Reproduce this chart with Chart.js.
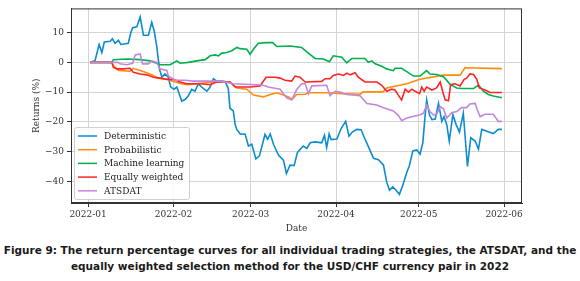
<!DOCTYPE html>
<html>
<head>
<meta charset="utf-8">
<script src="https://cdn.jsdelivr.net/npm/chart.js@4.4.1/dist/chart.umd.min.js"></script>
<style>
	html, body { margin: 0; padding: 0; background: #fff; }
	#wrap { position: relative; width: 580px; height: 281px; }
	#chart { position: absolute; left: 0; top: 0; }
	#caption {
		position: absolute; left: 0; top: 242px; width: 580px;
		text-align: center; font-family: "DejaVu Sans", sans-serif; font-weight: bold;
		font-size: 10.5px; line-height: 16px; color: #1a1a1a; white-space: nowrap;
	}
</style>
</head>
<body>
<div id="wrap">
	<canvas id="chart" width="580" height="240"></canvas>
	<div id="caption">Figure 9: The return percentage curves for all individual trading strategies, the ATSDAT, and the<br>equally weighted selection method for the USD/CHF currency pair in 2022</div>
</div>
<script>
// x values are days counted from 2022-01-01
const monthTicks = [0, 31, 59, 90, 120, 151];
const monthLabels = ['2022-01', '2022-02', '2022-03', '2022-04', '2022-05', '2022-06'];
const yTicks = [10, 0, -10, -20, -30, -40];

const seriesNames = ['Deterministic', 'Probabilistic', 'Machine learning', 'Equally weighted', 'ATSDAT'];
const seriesColors = ['#0b8dcf', '#ff8c0a', '#00b04c', '#ff2424', '#c486dc'];

const detDays = [0.7, 2.5, 4.0, 5.0, 5.9, 8.0, 8.8, 9.8, 11.0, 11.9, 14.6, 15.5, 16.2, 17.7, 18.9, 20.1, 21.9, 23.1, 24.0, 24.9,
	25.9, 26.8, 27.9, 29.1, 30.0, 31.2, 32.2, 34.0, 35.2, 36.4, 37.6, 38.8, 40.0, 41.6, 43.1, 44.3, 45.5, 46.7, 48.5, 49.7,
	50.9, 51.5, 52.7, 53.4, 54.0, 55.2, 57.0, 58.2, 59.4, 60.9, 62.2, 64.2, 65.2, 66.1, 67.3, 69.1, 70.9, 72.0, 73.3, 74.8,
	76.0, 78.1, 79.4, 80.6, 82.4, 84.8, 85.8, 86.6, 87.5, 88.2, 90.3, 91.8, 93.5, 94.7, 95.9, 97.5, 99.1, 100.3, 101.5, 103.6,
	105.4, 107.2, 108.4, 109.4, 110.6, 111.8, 113.0, 114.2, 115.7, 116.6, 117.9, 119.3, 120.5, 121.5, 122.3, 122.9, 123.9, 124.8, 126.0, 127.2,
	128.4, 129.2, 130.2, 131.1, 132.4, 133.6, 134.8, 136.2, 137.7, 138.9, 140.5, 141.7, 142.9, 144.7, 147.1, 148.9, 150.2];
const detRet = [0, 0.5, 6.0, 3.3, 6.8, 7.1, 7.9, 6.4, 7.4, 6.0, 6.4, 9.9, 11.6, 11.9, 15.2, 9.1, 9.1, 13.4, 10.5, 5.5,
	-2.2, -5.0, -3.9, -5.0, -8.3, -9.0, -8.3, -13.0, -12.5, -11.2, -9.1, -9.7, -7.2, -8.6, -9.7, -8.3, -5.5, -6.3, -6.3, -6.4,
	-8.8, -15.4, -16.3, -20.9, -22.6, -24.0, -24.1, -28.1, -27.5, -32.4, -31.4, -24.2, -25.8, -24.0, -27.5, -31.1, -32.8, -37.3, -34.5, -34.6,
	-30.2, -28.1, -28.9, -27.0, -26.7, -27.0, -24.5, -28.6, -24.0, -25.9, -25.7, -22.3, -19.8, -24.8, -23.4, -22.5, -22.6, -25.3, -27.8, -32.2,
	-32.7, -34.4, -40.2, -42.9, -41.8, -42.9, -44.3, -41.3, -36.9, -34.7, -29.7, -29.4, -30.8, -27.0, -18.2, -12.6, -17.6, -19.2, -19.0, -13.8,
	-19.8, -18.2, -20.9, -26.4, -17.6, -20.9, -23.4, -17.1, -34.9, -25.3, -26.4, -29.1, -22.5, -23.1, -23.9, -22.5, -22.5];

const probDays = [0.7, 8.6, 9.2, 11.0, 15.2, 16.4, 18.9, 21.3, 23.7, 25.5, 28.6, 31.0, 34.0, 35.8, 39.5, 45.5, 51.5, 54.0, 57.6, 60.0,
	63.6, 66.1, 68.5, 70.9, 72.7, 74.1, 75.7, 78.8, 80.0, 87.2, 92.1, 98.7, 99.9, 107.1, 108.4, 115.7, 120.5, 128.9, 135.0, 136.8, 150.2];
const probRet = [0, 0, -1.1, -2.7, -3.0, -2.0, -2.7, -3.5, -4.4, -5.3, -5.7, -6.4, -7.2, -7.5, -7.2, -6.6, -6.6, -8.6, -9.0, -11.0,
	-11.6, -10.8, -10.2, -11.0, -11.6, -12.4, -10.8, -10.7, -10.2, -10.2, -10.5, -10.7, -9.9, -9.9, -8.6, -7.2, -5.7, -4.3, -4.3, -1.8, -2.1];

const mlDays = [0.7, 8.6, 9.2, 14.0, 18.9, 22.5, 24.9, 26.1, 29.8, 32.2, 33.4, 36.4, 39.4, 42.5, 44.3, 46.1, 47.3, 48.5, 50.3, 52.2,
	54.0, 55.2, 57.6, 58.8, 60.0, 61.8, 64.9, 67.0, 68.5, 73.3, 77.5, 79.4, 82.4, 85.4, 87.6, 89.0, 92.1, 93.9, 95.7, 100.5,
	101.7, 103.0, 104.2, 106.6, 108.4, 110.8, 111.4, 113.8, 115.1, 118.1, 120.5, 122.9, 124.1, 126.5, 129.0, 131.4, 133.8, 135.6, 139.9, 141.7,
	143.5, 145.3, 147.1, 150.2];
const mlRet = [0, 0, 0.9, 1.1, 0.9, 0.5, -0.3, -0.8, -0.8, 0.5, -0.3, 0, 0.5, 0.9, 2.2, 2.5, 2.2, 3.1, 3.3, 3.9,
	5.0, 4.6, 4.4, 2.7, 4.4, 6.4, 6.6, 6.6, 5.3, 5.5, 5.0, 3.5, 1.3, 1.1, 0.2, 2.2, 1.7, -0.2, 1.3, 1.3,
	0, 0.5, -0.5, -1.3, -2.2, -2.8, -2.0, -2.0, -2.8, -4.6, -4.6, -2.8, -3.9, -4.1, -4.8, -7.4, -8.6, -8.8, -8.8, -7.6,
	-9.7, -10.8, -11.3, -11.9];

const ewDays = [0.7, 8.6, 9.2, 10.4, 12.8, 15.2, 16.4, 18.9, 21.3, 23.7, 26.1, 28.6, 31.0, 33.4, 35.8, 40.7, 44.3, 46.7, 51.5, 53.4,
	58.8, 62.4, 64.6, 67.9, 69.7, 71.5, 73.9, 75.1, 76.9, 78.8, 84.8, 86.0, 87.8, 89.0, 90.9, 92.7, 93.9, 95.1, 96.9, 98.1,
	100.5, 104.8, 106.6, 108.4, 110.2, 111.4, 112.6, 113.8, 115.1, 116.3, 117.5, 118.7, 120.3, 121.1, 122.0, 122.9, 124.8, 126.5, 127.8, 128.7,
	129.6, 130.8, 131.6, 133.2, 135.0, 136.5, 137.4, 138.6, 139.9, 141.1, 142.0, 144.1, 145.9, 150.2];
const ewRet = [0, 0, -1.7, -2.2, -2.2, -2.0, -3.3, -3.9, -4.2, -5.0, -5.3, -5.7, -5.7, -6.6, -7.2, -7.2, -7.5, -6.6, -6.6, -8.3,
	-8.3, -7.9, -5.0, -5.0, -5.3, -6.0, -6.3, -4.6, -5.0, -6.6, -6.4, -5.5, -5.5, -4.4, -3.9, -4.4, -3.6, -4.2, -3.5, -5.0,
	-6.6, -6.6, -7.7, -9.7, -9.0, -9.3, -11.0, -12.6, -9.0, -10.0, -9.0, -9.7, -10.5, -8.3, -9.7, -8.3, -9.3, -8.6, -6.6, -9.7,
	-12.6, -12.9, -7.5, -7.2, -7.9, -5.7, -5.3, -3.9, -4.1, -5.7, -8.6, -9.3, -10.1, -10.1];

const atsDays = [0.7, 10.9, 11.6, 14.0, 16.2, 17.1, 18.9, 19.8, 21.9, 23.1, 24.9, 26.1, 28.6, 29.1, 31.6, 35.2, 38.2, 47.9, 52.7, 61.2,
	63.6, 65.4, 69.7, 70.9, 72.1, 73.9, 75.8, 77.5, 78.8, 80.0, 81.2, 86.6, 87.8, 89.7, 91.5, 93.9, 98.7, 101.2, 104.8, 107.2,
	110.8, 112.6, 113.8, 115.7, 120.5, 121.7, 122.9, 124.1, 125.3, 126.5, 127.8, 129.0, 130.2, 132.0, 133.8, 135.6, 137.4, 138.6, 140.5, 141.3,
	142.3, 144.1, 147.1, 148.9, 150.2];
const atsRet = [0, 0, -0.5, -0.8, -0.3, 2.5, 2.8, -0.5, -0.5, 0.5, 0, -2.2, -2.7, -4.6, -6.0, -6.0, -6.3, -6.3, -7.2, -7.5,
	-7.7, -8.3, -9.0, -10.5, -11.9, -12.6, -9.0, -7.2, -7.2, -10.5, -7.9, -7.7, -11.2, -9.7, -10.0, -10.8, -11.2, -13.8, -14.3, -15.2,
	-16.3, -17.8, -19.6, -18.7, -17.6, -17.1, -14.3, -16.5, -17.6, -17.4, -14.9, -15.6, -18.7, -16.9, -16.5, -15.2, -15.2, -14.0, -13.8, -16.0,
	-18.2, -17.4, -17.4, -19.8, -19.8];

const allDays = [detDays, probDays, mlDays, ewDays, atsDays];
const allRets = [detRet, probRet, mlRet, ewRet, atsRet];

const serif = '"DejaVu Serif", serif';
const tickFont = { family: serif, size: 9 };

// box round the plot and the legend inside the axes
const framePlugin = {
	id: 'frame',
	beforeDatasetsDraw(chart) {
		const { ctx, chartArea: a } = chart;
		ctx.save();
		ctx.strokeStyle = '#333';
		ctx.lineWidth = 1;
		ctx.strokeRect(a.left + 0.5, a.top + 0.5, a.right - a.left - 1, a.bottom - a.top - 1);
		ctx.restore();
	},
	afterDatasetsDraw(chart) {
		const ctx = chart.ctx;
		const x0 = 74, y0 = 127, w = 115, h = 72;
		ctx.save();
		ctx.fillStyle = 'rgba(255,255,255,0.85)';
		ctx.strokeStyle = '#d0d0d0';
		ctx.lineWidth = 1;
		ctx.beginPath();
		ctx.roundRect(x0 + 0.5, y0 + 0.5, w, h, 2);
		ctx.fill();
		ctx.stroke();
		ctx.font = '9px ' + serif;
		ctx.textBaseline = 'middle';
		chart.data.datasets.forEach((ds, i) => {
			const y = 136 + i * 13.7;
			ctx.strokeStyle = ds.borderColor;
			ctx.lineWidth = 1.5;
			ctx.beginPath();
			ctx.moveTo(78, y);
			ctx.lineTo(97, y);
			ctx.stroke();
			ctx.fillStyle = '#222';
			ctx.fillText(ds.label, 104, y + 0.5);
		});
		ctx.restore();
	}
};

new Chart(document.getElementById('chart'), {
	type: 'line',
	data: {
		datasets: seriesNames.map((name, i) => ({
			label: name,
			data: allDays[i].map((d, j) => ({ x: d, y: allRets[i][j] })),
			borderColor: seriesColors[i],
			backgroundColor: seriesColors[i],
			borderWidth: 1.6,
			pointRadius: 0,
			tension: 0,
			fill: false,
			order: seriesNames.length - i,
		}))
	},
	options: {
		responsive: false,
		animation: false,
		devicePixelRatio: 1,
		layout: { padding: { top: 5, right: 58, left: 0, bottom: 0 } },
		plugins: { legend: { display: false }, tooltip: { enabled: false } },
		scales: {
			x: {
				type: 'linear',
				min: -6.2,
				max: 157.5,
				afterBuildTicks: (s) => { s.ticks = monthTicks.map(v => ({ value: v })); },
				afterFit: (s) => { s.height = 37; },
				ticks: {
					font: tickFont, color: '#333', padding: 2, maxRotation: 0, autoSkip: false,
					callback: (v) => monthLabels[monthTicks.indexOf(v)]
				},
				grid: { color: '#d4d4d4', tickColor: '#333', tickLength: 4 },
				border: { display: true, color: '#333' },
				title: { display: true, text: 'Date', font: tickFont, color: '#333', padding: { top: 0, bottom: 6 } }
			},
			y: {
				min: -47.2,
				max: 18.1,
				afterBuildTicks: (s) => { s.ticks = yTicks.map(v => ({ value: v })); },
				afterFit: (s) => { s.width = 71; },
				ticks: {
					font: tickFont, color: '#333', padding: 3,
					callback: (v) => String(v).replace('-', '\u2212')
				},
				grid: { color: '#d4d4d4', tickColor: '#333', tickLength: 4 },
				border: { display: true, color: '#333' },
				title: { display: true, text: 'Returns (%)', font: tickFont, color: '#333', padding: { top: 31, bottom: 0 } }
			}
		}
	},
	plugins: [framePlugin]
});
</script>
</body>
</html>
